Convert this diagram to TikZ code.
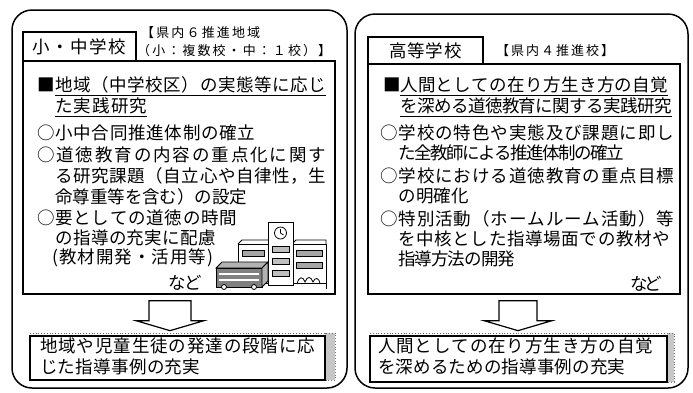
\documentclass[tikz,border=0pt]{standalone}
\usepackage{fontspec}
\newfontfamily\jfont{Noto Sans CJK JP}

% spread the characters of a line evenly over a given width
\makeatletter
\newcommand\spreadto[2]{\hbox to #1{\spr@first#2\@nil}}
\def\spr@first#1{#1\spr@loop}
\def\spr@loop#1{\ifx\@nil#1\else\hskip 0pt plus 1fil minus 1fil\relax#1\expandafter\spr@loop\fi}
\makeatother

\tikzset{
  outerframe/.style={draw, line width=1.5pt, rounded corners=20pt},
  panel/.style={draw, line width=1.3pt, inner sep=0pt, fill=white},
  tabbox/.style={draw, line width=1.3pt, inner sep=0pt, fill=white,
    font=\jfont\fontsize{17.5}{20}\selectfont},
  jt/.style={anchor=base west, inner sep=0pt, font=\jfont\fontsize{17.5}{20}\selectfont},
  js/.style={anchor=base west, inner sep=0pt, font=\jfont\fontsize{13}{15}\selectfont},
  ul/.style={line width=1pt},
  blockarrow/.style={draw, line width=1.2pt, fill=white, line join=miter},
  shade strip/.style={fill=black!22, draw=black!55, dotted, line width=0.8pt},
  art/.style={line width=0.8pt},
}

\begin{document}
\begin{tikzpicture}[x=1pt,y=-1pt]
\useasboundingbox (0,0) rectangle (693,392);

% ---------- outer frames ----------
\draw[outerframe] (12,10) rectangle (347,388);
\draw[outerframe] (355,14) rectangle (688,388);

% ---------- elementary / junior high panel ----------
\node[tabbox, minimum width=113pt, minimum height=30pt] (ltab) at (79.5,47)
  {\spreadto{94pt}{小・中学校}};
\node[panel, minimum width=312pt, minimum height=233pt] (lmain) at (179,177.5) {};
\node[js] (lreg1) at (141,37) {\spreadto{119pt}{【県内６推進地域}};
\node[js] (lreg2) at (137,55) {\spreadto{194pt}{（小：複数校・中：１校）】}};

\node[jt] (lsq) at (37,91) {■};
\node[jt] (l1) at (55,91) {\spreadto{271pt}{地域（中学校区）の実態等に応じ}};
\node[jt] (l2) at (55,112) {\spreadto{92pt}{た実践研究}};
\draw[ul] ([yshift=-4.5pt]l1.base west) -- ([yshift=-4.5pt]l1.base east);
\draw[ul] ([yshift=-4.5pt]l2.base west) -- ([yshift=-4.5pt]l2.base east);
\node[jt] (l3) at (37,139) {\spreadto{218pt}{○小中合同推進体制の確立}};
\node[jt] (l4) at (37,161) {\spreadto{289pt}{○道徳教育の内容の重点化に関す}};
\node[jt] (l5) at (55,182) {\spreadto{271pt}{る研究課題（自立心や自律性，生}};
\node[jt] (l6) at (55,203) {\spreadto{192pt}{命尊重等を含む）の設定}};
\node[jt] (l7) at (37,224) {\spreadto{200pt}{○要としての道徳の時間}};
\node[jt] (l8) at (55,244) {\spreadto{161pt}{の指導の充実に配慮}};
\node[jt] (l9) at (52,263) {\spreadto{161pt}{(教材開発・活用等)}};
\node[jt] (l10) at (168,289) {\spreadto{34pt}{など}};

% school building sketch
\begin{scope}[art]
  % right wing
  \draw[fill=white] (292,244) rectangle (326,283);
  \draw (292,244) -- (296,240) -- (326,240) -- (326,244);
  \draw (326,283) -- (326,289);
  \foreach \yy in {250,262}
    \draw[fill=black!35] (296,\yy) rectangle (322,\yy+6);
  % left wing
  \draw[fill=white] (238,244) rectangle (268,283);
  \draw (238,244) -- (242,240) -- (268,240);
  \foreach \yy in {250,262}
    \draw[fill=black!35] (242,\yy) rectangle (264,\yy+6);
  % clock tower
  \draw[fill=white] (268,222) rectangle (293,285);
  \draw (280.5,233) circle (6);
  \draw (280.5,233) -- (280.5,229) (280.5,233) -- (283.5,235);
  \foreach \yy in {246,258,270}
    \draw[fill=black!25] (272,\yy) rectangle (289,\yy+6);
  % bus in front
  \draw[fill=black!30] (216,268) -- (222,262) -- (268,262) -- (262,268) -- cycle;
  \draw[fill=black!50] (216,268) rectangle (262,287);
  \draw[fill=black!30] (262,268) -- (268,262) -- (268,281) -- (262,287) -- cycle;
  \draw[white, line width=1.2pt] (219,274) -- (259,274) (219,280) -- (259,280);
  \draw[fill=white] (224,287) circle (2.5) (254,287) circle (2.5);
  % shrubs
  \draw (297,284) .. controls (299,276) and (303,276) .. (305,282)
        .. controls (307,276) and (311,276) .. (313,282)
        .. controls (315,277) and (319,277) .. (320,284);
\end{scope}

% result box
\draw[dotted, black!60, line width=0.8pt] (30,333) -- (335,333);
\path[shade strip] (325,333) rectangle (335,380);
\node[panel, minimum width=295pt, minimum height=44pt] (lbot) at (177.5,358) {};
\node[jt] (lb1) at (40,352) {\spreadto{275pt}{地域や児童生徒の発達の段階に応}};
\node[jt] (lb2) at (40,373) {\spreadto{160pt}{じた指導事例の充実}};

\coordinate (la) at ([xshift=-9pt,yshift=-6pt]lmain.south);
\draw[blockarrow] (la) ++(-21,0) -- ++(42,0) -- ++(0,20) -- ++(13,0)
  -- ++(-34,10) -- ++(-34,-10) -- ++(13,0) -- cycle;

% ---------- high school panel ----------
\node[tabbox, minimum width=115pt, minimum height=27pt] (rtab) at (425.5,50.5)
  {\spreadto{72pt}{高等学校}};
\node[panel, minimum width=312pt, minimum height=230pt] (rmain) at (524,179) {};
\node[js] (rreg) at (496,55) {\spreadto{118pt}{【県内４推進校】}};

\node[jt] (rsq) at (383,91) {■};
\node[jt] (r1) at (400,91) {\spreadto{268pt}{人間としての在り方生き方の自覚}};
\node[jt] (r2) at (400,112) {\spreadto{272pt}{を深める道徳教育に関する実践研究}};
\draw[ul] ([yshift=-4.5pt]r1.base west) -- ([yshift=-4.5pt]r1.base east);
\draw[ul] ([yshift=-4.5pt]r2.base west) -- ([yshift=-4.5pt]r2.base east);
\node[jt] (r3) at (380,139) {\spreadto{294pt}{○学校の特色や実態及び課題に即し}};
\node[jt] (r4) at (398,159) {\spreadto{226pt}{た全教師による推進体制の確立}};
\node[jt] (r5) at (380,182) {\spreadto{294pt}{○学校における道徳教育の重点目標}};
\node[jt] (r6) at (398,202) {\spreadto{71pt}{の明確化}};
\node[jt] (r7) at (380,225) {\spreadto{294pt}{○特別活動（ホームルーム活動）等}};
\node[jt] (r8) at (398,245) {\spreadto{272pt}{を中核とした指導場面での教材や}};
\node[jt] (r9) at (398,265) {\spreadto{117pt}{指導方法の開発}};
\node[jt] (r10) at (630,290) {\spreadto{32pt}{など}};

% result box
\draw[dotted, black!60, line width=0.8pt] (370,333) -- (674,333);
\path[shade strip] (667,333) rectangle (674,382);
\node[panel, minimum width=297pt, minimum height=46pt] (rbot) at (518.5,359) {};
\node[jt] (rb1) at (378,352) {\spreadto{275pt}{人間としての在り方生き方の自覚}};
\node[jt] (rb2) at (378,373) {\spreadto{247pt}{を深めるための指導事例の充実}};

\coordinate (ra) at ([xshift=-6pt,yshift=-6pt]rmain.south);
\draw[blockarrow] (ra) ++(-19,0) -- ++(38,0) -- ++(0,20) -- ++(15,0)
  -- ++(-34,10) -- ++(-34,-10) -- ++(15,0) -- cycle;

\end{tikzpicture}
\end{document}
